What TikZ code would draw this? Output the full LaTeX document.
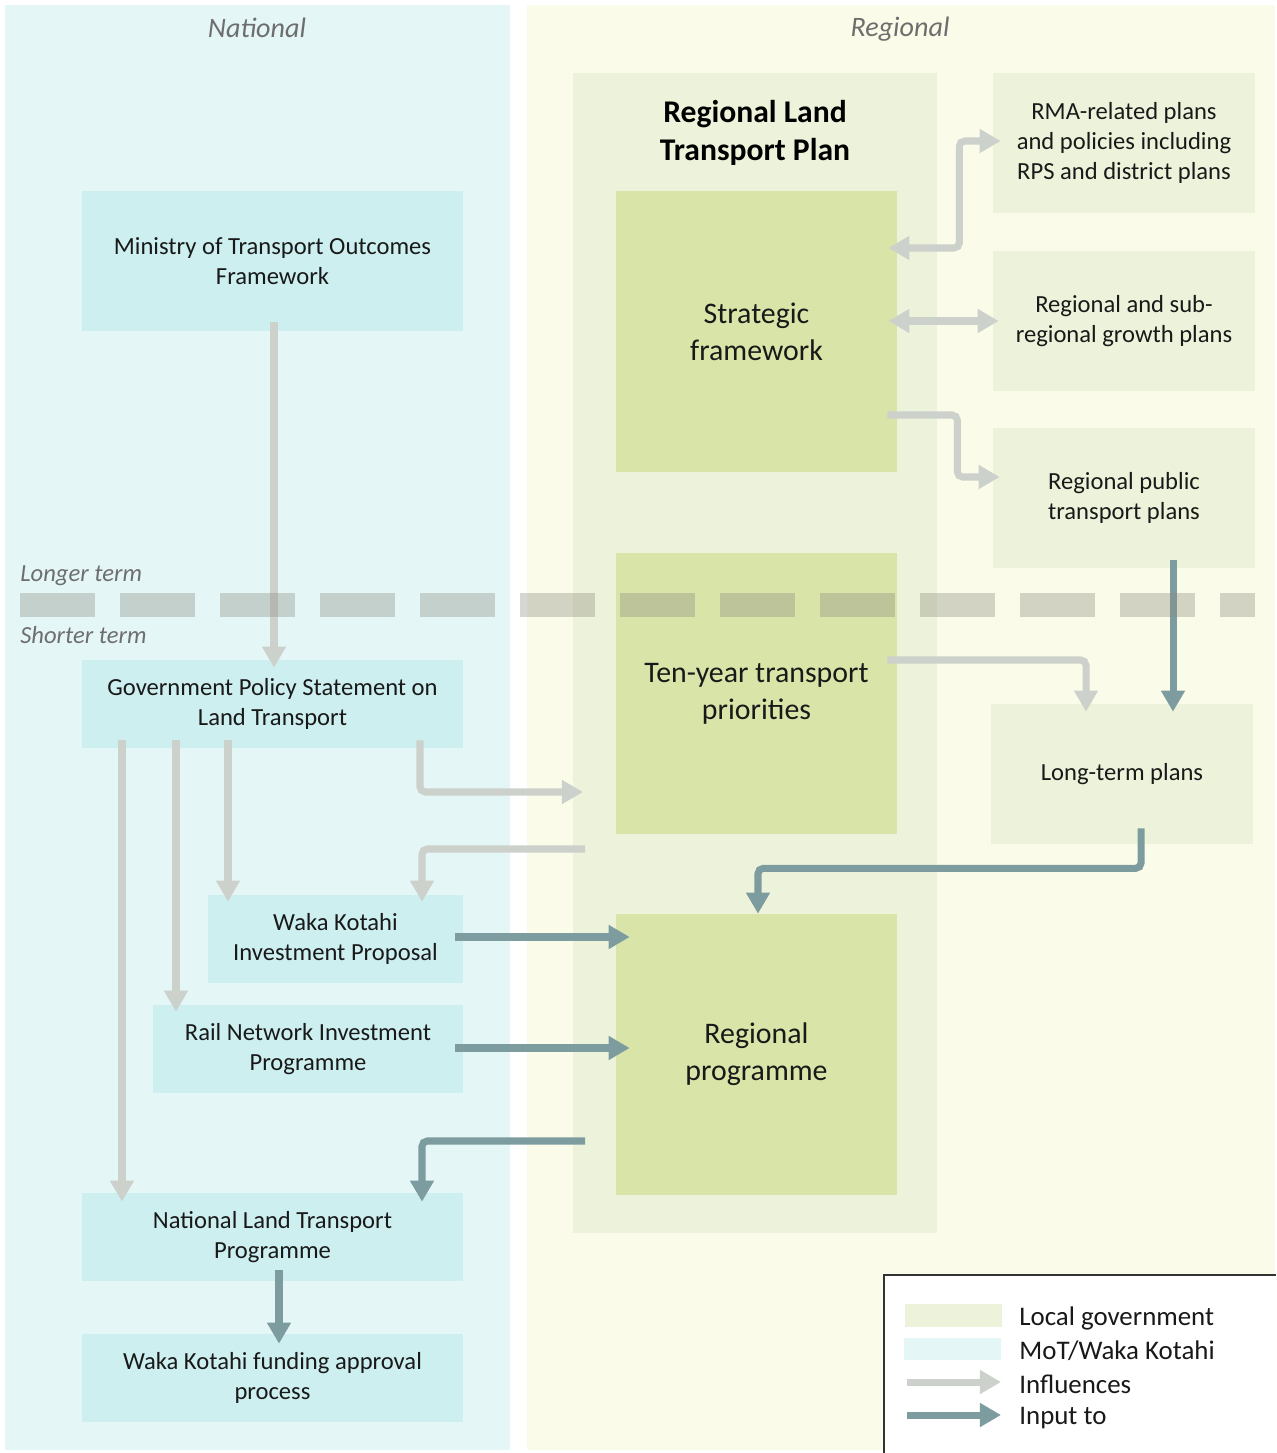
\documentclass[tikz,border=0pt]{standalone}
\usepackage{fontspec}
\setmainfont{Carlito}
\usetikzlibrary{arrows.meta,calc}

\definecolor{natbg}{HTML}{E4F6F6}
\definecolor{regbg}{HTML}{FBFBEA}
\definecolor{locbg}{HTML}{EDF3DA}
\definecolor{corebg}{HTML}{D9E4A8}
\definecolor{motbg}{HTML}{CDEFF0}
\definecolor{inflcol}{HTML}{CDD1CB}
\definecolor{inptcol}{HTML}{7D9C9F}
\definecolor{termcol}{HTML}{8A8A7E}
\definecolor{lblcol}{HTML}{6E6E6E}

\newcommand{\boxfont}{\fontsize{14}{17}\selectfont}
\newcommand{\corefont}{\fontsize{17}{21}\selectfont}
\newcommand{\legfont}{\fontsize{15.3}{18.5}\selectfont}

\tikzset{
	>={Triangle[length=12pt,width=13pt]},
	natbox/.style={fill=motbg, inner sep=0pt, align=center, font=\boxfont, text=black!90},
	sidebox/.style={fill=locbg, inner sep=0pt, align=center, font=\boxfont, text=black!90,
		minimum width=5.24cm, minimum height=2.8cm},
	corebox/.style={fill=corebg, inner sep=0pt, align=center, font=\corefont, text=black!90,
		minimum width=5.62cm, minimum height=5.62cm},
	infl/.style={->, draw=inflcol, line width=4pt, rounded corners=3pt},
	inflboth/.style={<->, draw=inflcol, line width=4pt, rounded corners=3pt},
	inpt/.style={->, draw=inptcol, line width=4pt, rounded corners=3pt},
	termlbl/.style={anchor=west, inner sep=0pt, font=\fontsize{14}{17}\selectfont\itshape, text=lblcol},
	keytxt/.style={anchor=west, inner sep=0pt, font=\legfont, text=black!90}
}

\begin{document}
\begin{tikzpicture}[x=0.02cm, y=-0.02cm]
		%%%%% START %%%%%
		\useasboundingbox (0,0) rectangle (1276,1453);
		
		% panels
		\fill[natbg] (5,5) rectangle (510,1450);
		\fill[regbg] (527,5) rectangle (1275,1450);
		\fill[locbg] (573,73) rectangle (937,1233);
		
		\node[font=\fontsize{16}{19}\selectfont\itshape, text=lblcol] (natlbl) at (257,28) {National};
		\node[font=\fontsize{16}{19}\selectfont\itshape, text=lblcol] (reglbl) at (900,29) {Regional};
		\node[align=center, font=\fontsize{18}{22}\selectfont\bfseries] (rltp) at (755,133) {Regional Land\\Transport Plan};
		
		% national boxes
		\node[natbox, minimum width=7.62cm, minimum height=2.8cm] (mof) at (272.5,261) {Ministry of Transport Outcomes\\Framework};
		\node[natbox, minimum width=7.62cm, minimum height=1.76cm] (gps) at (272.5,704) {Government Policy Statement on\\Land Transport};
		\node[natbox, minimum width=5.1cm, minimum height=1.76cm] (wkip) at (335.5,939) {Waka Kotahi\\Investment Proposal};
		\node[natbox, minimum width=6.2cm, minimum height=1.76cm] (rnip) at (308,1049) {Rail Network Investment\\Programme};
		\node[natbox, minimum width=7.62cm, minimum height=1.76cm] (nltp) at (272.5,1237) {National Land Transport\\Programme};
		\node[natbox, minimum width=7.62cm, minimum height=1.76cm] (wkfa) at (272.5,1378) {Waka Kotahi funding approval\\process};
		
		% regional boxes
		\node[corebox] (sf) at (756.5,331.5) {Strategic\\framework};
		\node[corebox] (typ) at (756.5,693.5) {Ten-year transport\\priorities};
		\node[corebox] (rp) at (756.5,1054.5) {Regional\\programme};
		
		\node[sidebox] (rma) at (1124,143) {RMA-related plans\\and policies including\\RPS and district plans};
		\node[sidebox] (rsg) at (1124,321) {Regional and sub-\\regional growth plans};
		\node[sidebox] (rptp) at (1124,498) {Regional public\\transport plans};
		\node[sidebox] (ltp) at (1122,774) {Long-term plans};
		
		\coordinate (typin) at (583,792);
		\coordinate (typout) at (585,849);
		\coordinate (rpout) at (585,1141);
		
		% influences
		\draw[infl] ([shift={(1.5,-9)}]mof.south) -- ([shift={(1.5,8)}]gps.north);
		\draw[infl] ([shift={(147.5,-8)}]gps.south) |- (typin);
		\draw[infl] (typout) -| ([shift={(86.5,7)}]wkip.north);
		\draw[infl] ([shift={(-44.5,-8)}]gps.south) -- ([shift={(-107.5,7)}]wkip.north);
		\draw[infl] ([shift={(-96.5,-8)}]gps.south) -- ([shift={(-132,7)}]rnip.north);
		\draw[infl] ([shift={(-150.5,-8)}]gps.south) -- ([shift={(-150.5,9)}]nltp.north);
		\draw[infl] ([shift={(-10,-33.5)}]typ.east) -| ([shift={(-36,8)}]ltp.north);
		\draw[infl] ([shift={(-10,83.5)}]sf.east) -- ++(70,0) |- ([shift={(7,-21)}]rptp.west);
		\draw[inflboth] ([shift={(-9,-10.5)}]sf.east) -- ([shift={(6,0)}]rsg.west);
		\draw[inflboth] ([shift={(-9,-83.5)}]sf.east) -- ++(71,0) |- ([shift={(8,-2)}]rma.west);
		
		% inputs
		\draw[inpt] ([shift={(-8,-2)}]wkip.east) -- ([shift={(14,-117.5)}]rp.west);
		\draw[inpt] ([shift={(-8,-1)}]rnip.east) -- ([shift={(14,-6.5)}]rp.west);
		\draw[inpt] (rpout) -| ([shift={(149.5,9)}]nltp.north);
		\draw[inpt] ([shift={(6.5,-11)}]nltp.south) -- ([shift={(6.5,10)}]wkfa.north);
		\draw[inpt] ([shift={(19,-16)}]ltp.south) -- ++(0,40) -| ([shift={(1.5,0)}]rp.north);
		\draw[inpt] ([shift={(49,-8)}]rptp.south) -- ([shift={(51,8)}]ltp.north);
		
		% term divider
		\draw[termcol, opacity=0.35, line width=0.48cm, dash pattern=on 1.5cm off 0.5cm] (20,605) -- (1255,605);
		\node[termlbl] (longer) at (20,576) {Longer term};
		\node[termlbl] (shorter) at (20,635) {Shorter term};
		
		% key
		\fill[white] (884,1275) rectangle (1276,1453);
		\draw[black!80, line width=0.8pt] (884,1453) -- (884,1275) -- (1276,1275);
		\node[fill=locbg, inner sep=0pt, minimum width=1.94cm, minimum height=0.46cm] (keyloc) at (953.5,1315.5) {};
		\node[fill=natbg, inner sep=0pt, minimum width=1.94cm, minimum height=0.44cm] (keymot) at (952.5,1349) {};
		\node[keytxt] (keyloctxt) at (1019,1318) {Local government};
		\node[keytxt] (keymottxt) at (1019,1351) {MoT/Waka Kotahi};
		\node[keytxt] (keyinfl) at (1019,1384) {Influences};
		\node[keytxt] (keyinpt) at (1019,1418) {Input to};
		\draw[infl] ($(keyinfl.west)+(-112,-2)$) -- ($(keyinfl.west)+(-18,-2)$);
		\draw[inpt] ($(keyinpt.west)+(-112,-3)$) -- ($(keyinpt.west)+(-18,-3)$);
		
		%%%%% END %%%%%
\end{tikzpicture}
\end{document}
